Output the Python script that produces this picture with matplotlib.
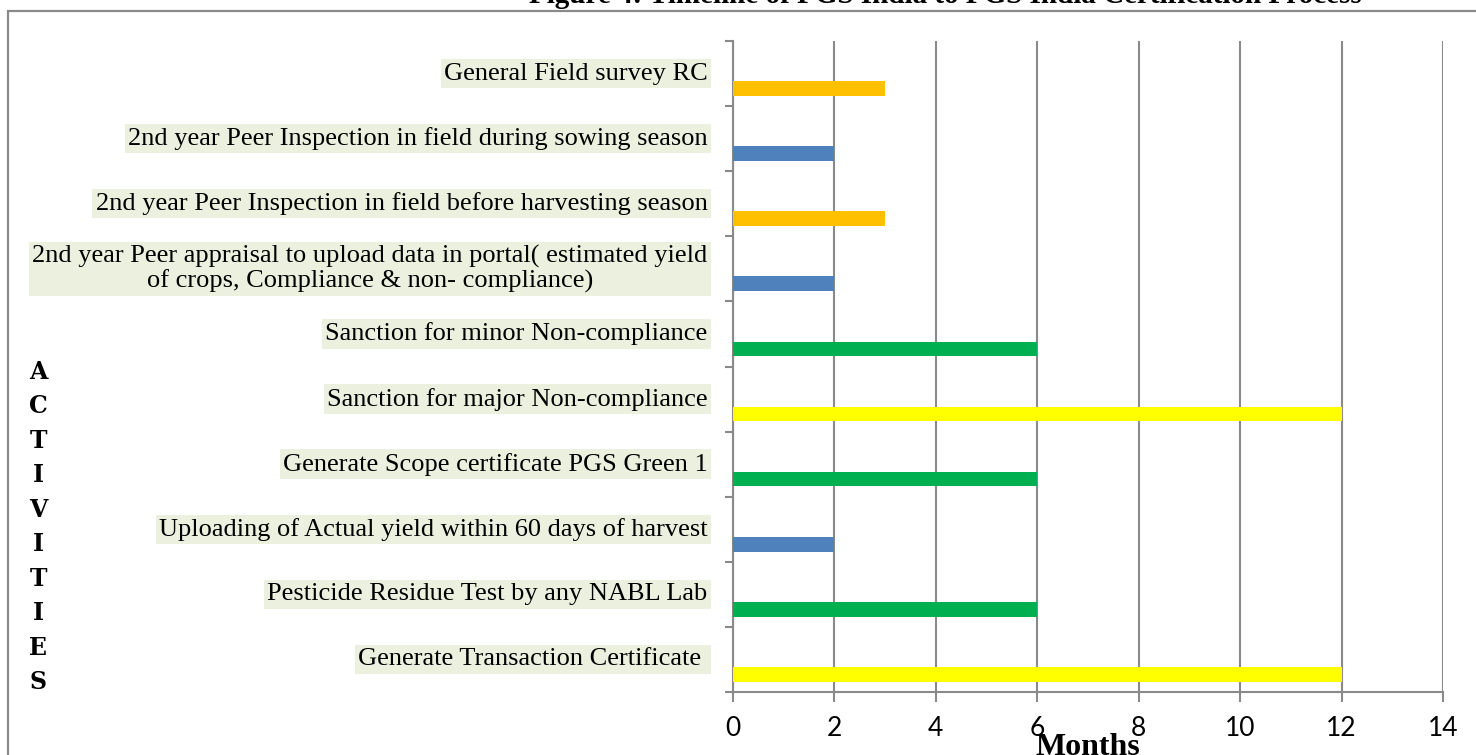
import matplotlib
matplotlib.use("Agg")
import matplotlib.pyplot as plt
from matplotlib.patches import Rectangle

# activities, top to bottom
activities = [
    "General Field survey RC",
    "2nd year Peer Inspection in field during sowing season",
    "2nd year Peer Inspection in field before harvesting season",
    "2nd year Peer appraisal to upload data in portal( estimated yield\nof crops, Compliance & non- compliance)",
    "Sanction for minor Non-compliance",
    "Sanction for major Non-compliance",
    "Generate Scope certificate PGS Green 1",
    "Uploading of Actual yield within 60 days of harvest",
    "Pesticide Residue Test by any NABL Lab",
    "Generate Transaction Certificate ",
]
months = [3, 2, 3, 2, 6, 12, 6, 2, 6, 12]
colors = ["#FFC000", "#4F81BD", "#FFC000", "#4F81BD", "#00B050",
          "#FFFF00", "#00B050", "#4F81BD", "#00B050", "#FFFF00"]
xticks = [0, 2, 4, 6, 8, 10, 12, 14]

W, H = 1476, 755
fig = plt.figure(figsize=(W / 100, H / 100), dpi=100)

# outer frame
fig.patches.append(Rectangle((8 / W, -0.05), 1.2, 1.05 - 11 / H,
                             transform=fig.transFigure, fill=False,
                             edgecolor="#8a8a8a", linewidth=1.6))

# title (sits partly above the frame)
fig.text(945 / W, 1 - 3 / H, "Figure 4: Timeline of PGS India to PGS India Certification Process",
         ha="center", va="baseline", fontsize=21, fontweight="bold",
         family="Liberation Serif")

ax = fig.add_axes([733 / W, 1 - 692 / H, 710 / W, 651 / H])

pos = list(range(len(activities)))
ax.barh([p + 0.23 for p in pos], months, height=0.225, color=colors, zorder=3)

ax.set_xlim(0, 14)
ax.set_ylim(len(activities) - 0.5, -0.5)
ax.set_xticks(xticks)
ax.set_xticklabels([str(t) for t in xticks], fontsize=19, family="Lato")
ax.set_yticks([])
ax.set_yticks([p - 0.5 for p in pos] + [len(activities) - 0.5], minor=True)
ax.tick_params(axis="y", which="minor", length=6, color="#8a8a8a", width=1.5)
ax.tick_params(axis="x", length=7, color="#8a8a8a", width=1.5, pad=10)

ax.grid(axis="x", color="#8a8a8a", linewidth=1.5, zorder=0)
for side in ["top", "right"]:
    ax.spines[side].set_visible(False)
for side in ["left", "bottom"]:
    ax.spines[side].set_color("#8a8a8a")
    ax.spines[side].set_linewidth(1.5)

# activity labels with shaded background
for p, name in zip(pos, activities):
    ax.text(-0.036, p, name, transform=ax.get_yaxis_transform(),
            ha="right", va="center", multialignment="center",
            fontsize=19, family="Liberation Serif", linespacing=1.1,
            bbox=dict(boxstyle="square,pad=0.12", facecolor="#EBF1DE",
                      edgecolor="none"))

ax.text(0.5, -0.063, "Months", transform=ax.transAxes, ha="center", va="top",
        fontsize=23, fontweight="bold", family="Liberation Serif")

fig.text(38 / W, 1 - 527 / H, "\n".join("ACTIVITIES"), ha="center", va="center",
         fontsize=17, fontweight="bold", family="DejaVu Serif", linespacing=1.55)

fig.savefig("out.png", dpi=100)
